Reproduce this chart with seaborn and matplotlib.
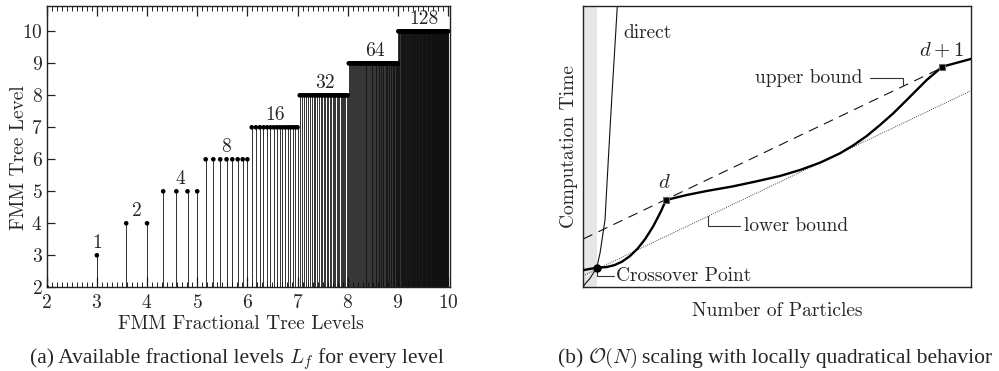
import matplotlib
matplotlib.use("Agg")
import matplotlib.pyplot as plt
import seaborn as sns
import numpy as np

# ---------------- data: panel (a) ----------------
group_counts = [1, 2, 4, 8, 16, 32, 64, 128]
group_label_x = [3.0, 3.79, 4.66, 5.57, 6.55, 7.54, 8.55, 9.53]
group_level = [3, 4, 5, 6, 7, 8, 9, 10]

lvl2_x = [2.0]
lvl3_x = [3.0]
lvl4_x = [3.585, 4.0]
lvl5_x = [4.322, 4.585, 4.807, 5.0]
lvl6_x = [5.170, 5.322, 5.459, 5.585, 5.700, 5.807, 5.907, 6.0]
lvl7_x = [6.0875, 6.1699, 6.2479, 6.3219, 6.3923, 6.4594, 6.5236, 6.5850,
          6.6439, 6.7004, 6.7549, 6.8074, 6.8580, 6.9069, 6.9542, 7.0]
lvl8_x = [7.0444, 7.0875, 7.1293, 7.1699, 7.2095, 7.2479, 7.2854, 7.3219,
          7.3576, 7.3923, 7.4263, 7.4594, 7.4919, 7.5236, 7.5546, 7.5850,
          7.6147, 7.6439, 7.6724, 7.7004, 7.7279, 7.7549, 7.7814, 7.8074,
          7.8329, 7.8580, 7.8826, 7.9069, 7.9307, 7.9542, 7.9773, 8.0]
lvl9_x = [8.022, 8.044, 8.066, 8.088, 8.108, 8.129, 8.150, 8.170, 8.190, 8.210,
          8.229, 8.248, 8.267, 8.285, 8.304, 8.322, 8.340, 8.358, 8.375, 8.392,
          8.409, 8.426, 8.443, 8.459, 8.476, 8.492, 8.508, 8.524, 8.539, 8.555,
          8.570, 8.585, 8.600, 8.615, 8.629, 8.644, 8.658, 8.672, 8.686, 8.700,
          8.714, 8.728, 8.741, 8.755, 8.768, 8.781, 8.794, 8.807, 8.820, 8.833,
          8.846, 8.858, 8.870, 8.883, 8.895, 8.907, 8.919, 8.931, 8.943, 8.954,
          8.966, 8.977, 8.989, 9.000]
lvl10_x = [9.011, 9.022, 9.033, 9.044, 9.055, 9.066, 9.077, 9.088, 9.098, 9.108,
           9.119, 9.129, 9.140, 9.150, 9.160, 9.170, 9.180, 9.190, 9.200, 9.210,
           9.219, 9.229, 9.238, 9.248, 9.257, 9.267, 9.276, 9.285, 9.295, 9.304,
           9.313, 9.322, 9.331, 9.340, 9.349, 9.358, 9.366, 9.375, 9.384, 9.392,
           9.401, 9.409, 9.418, 9.426, 9.435, 9.443, 9.451, 9.459, 9.468, 9.476,
           9.484, 9.492, 9.500, 9.508, 9.516, 9.524, 9.531, 9.539, 9.547, 9.555,
           9.562, 9.570, 9.577, 9.585, 9.593, 9.600, 9.607, 9.615, 9.622, 9.629,
           9.637, 9.644, 9.651, 9.658, 9.665, 9.672, 9.679, 9.686, 9.693, 9.700,
           9.707, 9.714, 9.721, 9.728, 9.735, 9.741, 9.748, 9.755, 9.762, 9.768,
           9.775, 9.781, 9.788, 9.794, 9.801, 9.807, 9.814, 9.820, 9.827, 9.833,
           9.839, 9.846, 9.852, 9.858, 9.864, 9.870, 9.877, 9.883, 9.889, 9.895,
           9.901, 9.907, 9.913, 9.919, 9.925, 9.931, 9.937, 9.943, 9.948, 9.954,
           9.960, 9.966, 9.972, 9.977, 9.983, 9.989, 9.994, 10.000]
level_groups = {2: lvl2_x, 3: lvl3_x, 4: lvl4_x, 5: lvl5_x, 6: lvl6_x,
                7: lvl7_x, 8: lvl8_x, 9: lvl9_x, 10: lvl10_x}

# ---------------- data: panel (b) (normalized schematic) ----------------
curve_x = [0.0, 0.0346, 0.06, 0.08, 0.10, 0.12, 0.14, 0.16, 0.18, 0.20, 0.2135,
           0.2669, 0.3185, 0.3872, 0.4476, 0.5077, 0.5594, 0.6110, 0.6626,
           0.6970, 0.7316, 0.7659, 0.8002, 0.8348, 0.8606, 0.8864, 0.9267, 1.0]
curve_y = [0.059, 0.0676, 0.0698, 0.0766, 0.0891, 0.1084, 0.1352, 0.1702, 0.2139,
           0.2669, 0.3085,
           0.3263, 0.3406, 0.3573, 0.3751, 0.3940, 0.4153, 0.4413, 0.4747,
           0.5032, 0.5363, 0.5754, 0.6171, 0.6644, 0.7000, 0.7356, 0.7829, 0.8103]
direct_x = [0.0, 0.006, 0.0173, 0.0346, 0.0431, 0.056, 0.0645, 0.0733, 0.0836, 0.0878]
direct_y = [0.0, 0.012, 0.0299, 0.0676, 0.1189, 0.2374, 0.451, 0.6665, 0.9018, 1.0]
upper_x = [0.0, 0.93]
upper_y = [0.170, 0.782]
lower_x = [0.0, 1.0]
lower_y = [0.039, 0.697]
cross_pt = (0.0346, 0.0676)
d_pt = (0.2135, 0.3085)
d1_pt = (0.9267, 0.7829)

# ---------------- styling ----------------
sns.set_theme(style="white")
plt.rcParams.update({
    "font.family": ["cmr10", "DejaVu Serif"],
    "mathtext.fontset": "cm",
    "axes.unicode_minus": False,
    "axes.formatter.use_mathtext": True,
    "axes.edgecolor": "#222222",
    "axes.linewidth": 1.0,
})
FS = 14

fig = plt.figure(figsize=(9.99, 3.71), dpi=100)
W, H = 999, 371

def ax_rect(l, t, r, b):
    return [l / W, 1 - b / H, (r - l) / W, (b - t) / H]

# ---------------- panel (a) ----------------
axa = fig.add_axes(ax_rect(46.7, 5.7, 450, 287.3))
xs, ys = [], []
for lvl, xl in level_groups.items():
    xs.extend(xl)
    ys.extend([lvl] * len(xl))
axa.vlines(xs, 2, ys, color="#111111", lw=0.6, zorder=2)
sns.scatterplot(x=xs, y=ys, s=11, color="black", edgecolor="none", ax=axa,
                zorder=3, legend=False)
for cnt, lx, lv in zip(group_counts, group_label_x, group_level):
    axa.text(lx, lv + 0.1, str(cnt), ha="center", va="bottom", fontsize=FS)

axa.set_xlim(2, 10.04)
axa.set_ylim(2, 10.8)
axa.set_xticks(range(2, 11))
axa.set_yticks(range(2, 11))
axa.set_xticks(np.arange(2, 10.05, 0.1), minor=True)
axa.tick_params(axis="x", which="major", direction="in", length=7, width=0.9,
                top=True, bottom=True, labelsize=FS, pad=5, color="#222222")
axa.tick_params(axis="x", which="minor", direction="in", length=3.5, width=0.7,
                top=True, bottom=True, color="#222222")
axa.tick_params(axis="y", which="major", direction="in", length=6, width=0.9,
                left=True, right=False, labelsize=FS, pad=3, color="#222222")
axa.set_xlabel("FMM Fractional Tree Levels", fontsize=FS)
axa.set_ylabel("FMM Tree Level", fontsize=FS)
axa.xaxis.set_label_coords(0.482, -0.098)
axa.yaxis.set_label_coords(-0.0475, 0.459)

# ---------------- panel (b) ----------------
axb = fig.add_axes(ax_rect(583.3, 5.7, 970.7, 286.7))
axb.set_xlim(0, 1)
axb.set_ylim(0, 1)
axb.axvspan(0, 0.0346, color="#e6e6e6", lw=0, zorder=0)
sns.lineplot(x=direct_x, y=direct_y, sort=False, estimator=None, color="#111111",
             lw=0.8, ax=axb, zorder=2)
sns.lineplot(x=upper_x, y=upper_y, sort=False, estimator=None, color="#111111",
             lw=0.8, linestyle=(0, (9, 6)), ax=axb, zorder=2)
sns.lineplot(x=lower_x, y=lower_y, sort=False, estimator=None, color="#111111",
             lw=0.6, linestyle=(0, (1, 1.5)), ax=axb, zorder=2)
sns.lineplot(x=curve_x, y=curve_y, sort=False, estimator=None, color="black",
             lw=1.7, ax=axb, zorder=3)
axb.plot([cross_pt[0]], [cross_pt[1]], "o", ms=5, color="black", zorder=5)
axb.plot([d_pt[0], d1_pt[0]], [d_pt[1], d1_pt[1]], "s", ms=4.5, mfc="black",
         mec="#666666", mew=0.8, ls="none", zorder=5)

lc = "#333333"
axb.plot([cross_pt[0], cross_pt[0], 0.0793], [cross_pt[1], 0.038, 0.038], color=lc, lw=0.8)
axb.text(0.0844, 0.038, "Crossover Point", fontsize=FS, va="center", ha="left")
axb.plot([0.3227, 0.3227, 0.4045], [0.2518, 0.216, 0.216], color=lc, lw=0.8)
axb.text(0.4143, 0.216, "lower bound", fontsize=FS, va="center", ha="left")
axb.plot([0.740, 0.826, 0.826], [0.7416, 0.7416, 0.7178], color=lc, lw=0.8)
axb.text(0.7215, 0.7416, "upper bound", fontsize=FS, va="center", ha="right")
axb.text(0.1033, 0.9018, "direct", fontsize=FS, va="center", ha="left")
axb.text(0.2101, 0.368, r"$d$", fontsize=FS + 1, va="center", ha="center")
axb.text(0.925, 0.842, r"$d+1$", fontsize=FS + 1, va="center", ha="center")

axb.set_xticks([])
axb.set_yticks([])
axb.set_xlabel("Number of Particles", fontsize=FS)
axb.set_ylabel("Computation Time", fontsize=FS)
axb.xaxis.set_label_coords(0.501, -0.055)
axb.yaxis.set_label_coords(-0.013, 0.5)

# ---------------- captions (text pieces laid out side by side) ----------------
CAP_FS = 15.5
renderer = fig.canvas.get_renderer()

def caption(pieces, cx_px, base_px, gap_px=5.0):
    texts = []
    for s in pieces:
        if s.startswith("$"):
            t = fig.text(0, 1 - base_px / H, s, fontsize=CAP_FS - 0.5, va="baseline", ha="left")
        else:
            t = fig.text(0, 1 - base_px / H, s, fontsize=CAP_FS, va="baseline", ha="left",
                         family="Liberation Serif")
        texts.append(t)
    widths = [t.get_window_extent(renderer).width for t in texts]
    total = sum(widths) + gap_px * (len(texts) - 1)
    x = cx_px - total / 2
    for t, w in zip(texts, widths):
        t.set_x(x / W)
        x += w + gap_px

caption(["(a) Available fractional levels", r"$L_f$", "for every level"], 237, 363)
caption(["(b)", r"$\mathcal{O}(N)$", "scaling with locally quadratical behavior"], 775, 363)

fig.savefig("out.png", dpi=100)
